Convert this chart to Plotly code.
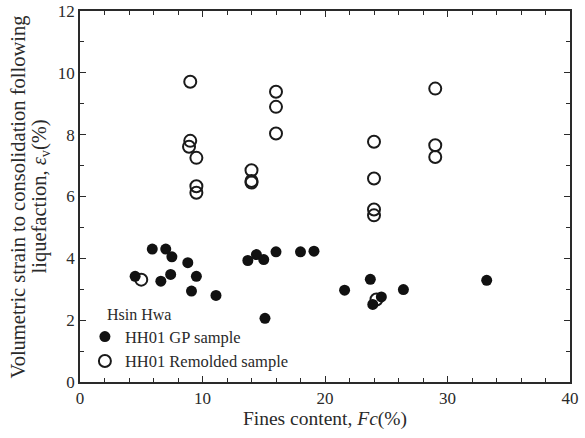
import plotly.graph_objects as go

# Filled dots: HH01 GP sample
gp_fc = [4.5, 5.9, 6.6, 7.0, 7.5, 7.4, 8.8, 9.5, 9.1, 11.1, 13.7, 14.4, 15.0, 15.1, 16.0,
         18.0, 19.1, 21.6, 23.7, 23.9, 24.6, 26.4, 33.2]
gp_ev = [3.42, 4.30, 3.26, 4.30, 4.05, 3.48, 3.86, 3.42, 2.94, 2.80, 3.93, 4.12, 3.96, 2.06, 4.21,
         4.21, 4.23, 2.97, 3.32, 2.51, 2.75, 2.99, 3.29]

# Open circles: HH01 Remolded sample
rm_fc = [5.0, 9.0, 9.0, 8.9, 9.5, 9.5, 9.5, 14.0, 14.0, 14.0, 16.0, 16.0, 16.0,
         24.0, 24.0, 24.0, 24.0, 24.2, 29.0, 29.0, 29.0]
rm_ev = [3.31, 9.71, 7.80, 7.61, 7.25, 6.33, 6.12, 6.85, 6.50, 6.45, 9.39, 8.90, 8.04,
         7.77, 6.58, 5.58, 5.39, 2.67, 9.49, 7.66, 7.28]

y_title_lines = ["Volumetric strain to consolidation following",
                 "liquefaction, <i>ε</i><sub>v</sub>(%)"]

font_family = "Liberation Serif"
ink = "#2a2a2a"

fig = go.Figure()
fig.add_trace(go.Scatter(
    x=rm_fc, y=rm_ev, mode="markers", name="HH01 Remolded sample",
    marker=dict(symbol="circle-open", size=12, color="#1a1a1a", line=dict(width=2, color="#1a1a1a")),
))
fig.add_trace(go.Scatter(
    x=gp_fc, y=gp_ev, mode="markers", name="HH01 GP sample",
    marker=dict(symbol="circle", size=11, color="#111111"),
))

axis_common = dict(
    showline=True, linecolor=ink, linewidth=1.5, mirror="ticks",
    ticks="inside", ticklen=6, tickwidth=1.2, tickcolor=ink,
    showgrid=False, zeroline=False, automargin=False,
    tickfont=dict(family=font_family, size=17, color=ink),
)

fig.update_layout(
    width=585, height=438,
    margin=dict(l=80, r=15, t=11, b=56),
    plot_bgcolor="white", paper_bgcolor="white",
    font=dict(family=font_family, color=ink),
    xaxis=dict(
        range=[0, 40], dtick=10, tick0=0,
        minor=dict(dtick=2, ticks="inside", ticklen=4, tickcolor=ink),
        title=dict(text="Fines content, <i>Fc</i>(%)", font=dict(family=font_family, size=19.5, color=ink), standoff=3),
        **axis_common,
    ),
    yaxis=dict(
        range=[0, 12], dtick=2, tick0=0,
        minor=dict(dtick=1, ticks="inside", ticklen=4, tickcolor=ink),
        **axis_common,
    ),
    showlegend=True,
    legend=dict(
        x=0.01, y=0.169, xanchor="left", yanchor="top",
        bgcolor="rgba(0,0,0,0)",
        font=dict(family=font_family, size=16.5, color=ink),
        traceorder="reversed", itemwidth=30, tracegroupgap=0,
    ),
    annotations=[
        dict(text="Hsin Hwa", xref="paper", yref="paper", x=0.052, y=0.182,
             xanchor="left", yanchor="middle", showarrow=False,
             font=dict(family=font_family, size=16, color=ink)),
        dict(text=y_title_lines[0], xref="paper", yref="paper", x=-0.1245, y=0.5,
             xanchor="center", yanchor="middle", showarrow=False, textangle=-90,
             font=dict(family=font_family, size=20.5, color=ink)),
        dict(text=y_title_lines[1], xref="paper", yref="paper", x=-0.0816, y=0.5,
             xanchor="center", yanchor="middle", showarrow=False, textangle=-90,
             font=dict(family=font_family, size=20.5, color=ink)),
    ],
)

fig.write_html("out.html", config={"displayModeBar": False},
               post_script="document.body.style.margin='0';")
